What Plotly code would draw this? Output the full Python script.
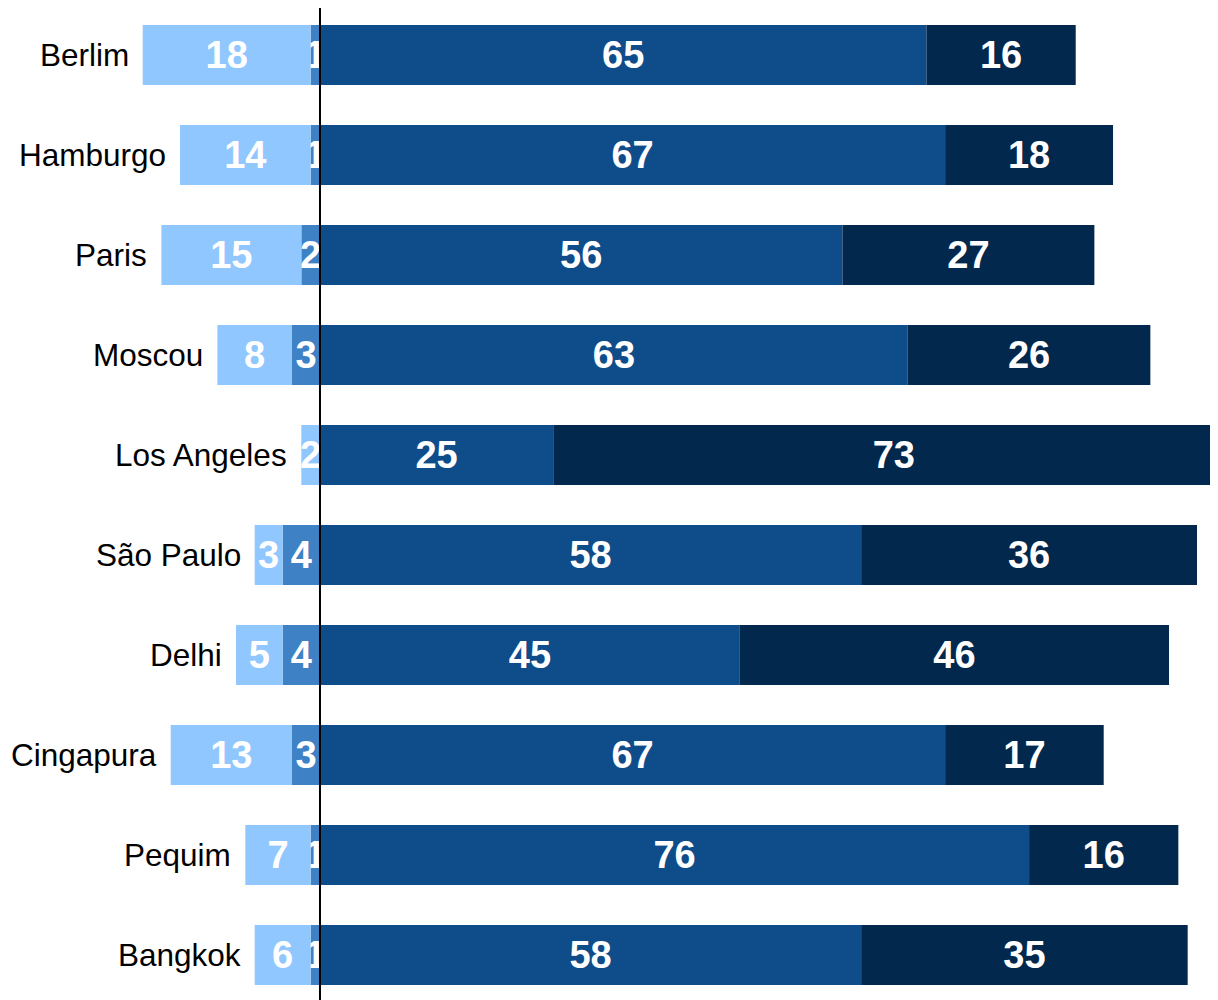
import plotly.graph_objects as go

cities = ["Berlim", "Hamburgo", "Paris", "Moscou", "Los Angeles", "São Paulo",
          "Delhi", "Cingapura", "Pequim", "Bangkok"]
light_vals = [18, 14, 15, 8, 2, 3, 5, 13, 7, 6]
medium_vals = [1, 1, 2, 3, 0, 4, 4, 3, 1, 1]
dark_vals = [65, 67, 56, 63, 25, 58, 45, 67, 76, 58]
darkest_vals = [16, 18, 27, 26, 73, 36, 46, 17, 16, 35]

colors = {"light": "#90C7FF", "medium": "#3E82C5", "dark": "#0F4C8A", "darkest": "#02284D"}
FONT = "Arial, Liberation Sans, sans-serif"

def txt(vals):
    return [str(v) if v else "" for v in vals]

fig = go.Figure()
series = [
    ("medium", [-v for v in medium_vals], medium_vals),
    ("light", [-v for v in light_vals], light_vals),
    ("dark", dark_vals, dark_vals),
    ("darkest", darkest_vals, darkest_vals),
]
for name, xs, labels in series:
    fig.add_trace(go.Bar(
        y=cities, x=xs, orientation="h", name=name,
        marker=dict(color=colors[name], line=dict(width=0)),
        width=0.6,
        text=txt(labels), textposition="inside", insidetextanchor="middle",
        textangle=0, constraintext="none", cliponaxis=True,
        textfont=dict(family=FONT, size=38, color="white", weight="bold"),
        hoverinfo="skip",
    ))

for c, l, m in zip(cities, light_vals, medium_vals):
    fig.add_annotation(x=-(l + m), y=c, text=c, showarrow=False,
                       xanchor="right", yanchor="middle", xshift=-12,
                       font=dict(family=FONT, size=31.5, color="black"))

fig.add_shape(type="line", xref="x", yref="paper", x0=0, x1=0, y0=0, y1=1,
              line=dict(color="black", width=2), layer="above")

fig.update_layout(
    width=1210, height=992,
    margin=dict(l=0, r=0, t=0, b=0),
    barmode="relative", bargap=0.4,
    showlegend=False,
    plot_bgcolor="white", paper_bgcolor="white",
    xaxis=dict(range=[-33.44, 96.25], visible=False, showgrid=False, zeroline=False),
    yaxis=dict(categoryorder="array", categoryarray=cities, range=[9.45, -0.47],
               visible=False, showgrid=False, zeroline=False),
)
fig.write_html("out.html")
